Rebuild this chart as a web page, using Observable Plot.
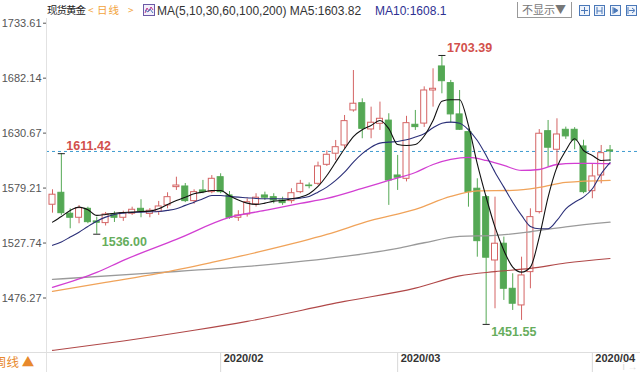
<!DOCTYPE html>
<html>
<head>
<meta charset="utf-8">
<script src="https://cdn.jsdelivr.net/npm/d3@7"></script>
<script src="https://cdn.jsdelivr.net/npm/@observablehq/plot@0.6"></script>
<style>
  html, body { margin: 0; padding: 0; background: #fff; }
  #wrap { position: relative; width: 640px; height: 372px; overflow: hidden; background: #fff; font-family: "Liberation Sans", Arial, sans-serif; }
  .ov { position: absolute; white-space: nowrap; line-height: 14px; }
  .cjk { font-family: "Noto Sans CJK SC", sans-serif; }
  .ico { position: absolute; top: 5px; width: 11px; height: 11px; border: 1px solid #4a78b8; background: #eef3fb; box-sizing: border-box; }
</style>
</head>
<body>
<div id="wrap">
  <div id="chart"></div>
  <div class="ov" style="left:46px;top:18px;width:1px;height:354px;background:#e2e2e2"></div>
  <div class="ov" style="left:0;top:352px;width:640px;height:1px;background:#dedede"></div>
  <div class="ov cjk" style="left:-6px;top:354px;font-size:12.5px;color:#e8892c;line-height:16px">周线 ▲</div>

  <div class="ov cjk" style="left:47px;top:3px;font-size:10.5px;letter-spacing:-1px;color:#222">现货黄金</div>
  <div class="ov cjk" style="left:88px;top:3px;font-size:10px;color:#f2a33a">&lt;</div>
  <div class="ov cjk" style="left:97px;top:3px;font-size:10.5px;letter-spacing:1px;color:#f2a33a">日线</div>
  <div class="ov cjk" style="left:128px;top:3px;font-size:10px;color:#f2a33a">&gt;</div>
  <div class="ov" style="left:143px;top:4px;width:12px;height:12px;border:1px solid #6b5aa6;box-sizing:border-box;background:#f3effa">
    <svg width="10" height="10" style="position:absolute;left:0;top:0"><polyline points="1,8 3,3 5,6 7,2 9,5" fill="none" stroke="#c0398f" stroke-width="1"/><polyline points="1,5 4,7 6,4 9,8" fill="none" stroke="#4a78b8" stroke-width="1"/></svg>
  </div>
  <div class="ov" style="left:157px;top:4px;font-size:12px;color:#333">MA(5,10,30,60,100,200) MA5:1603.82</div>
  <div class="ov" style="left:375px;top:4px;font-size:12px;color:#2e3092">MA10:1608.1</div>
  <div class="ov cjk" style="left:517px;top:2px;width:55px;height:16px;border-left:1px solid #999;border-right:1px solid #999;border-bottom:1px solid #999;box-sizing:border-box;font-size:11px;color:#777;line-height:15px;padding-left:4px">不显示▼</div>
  <div class="ico" style="left:579px"><svg width="9" height="9" style="position:absolute;left:0;top:0"><path d="M4.5 1V8M1 4.5H8" stroke="#4a78b8"/></svg></div>
  <div class="ico" style="left:594px"><svg width="9" height="9" style="position:absolute;left:0;top:0"><path d="M2 1V8M7 1V8M2 5H7" stroke="#4a78b8"/></svg></div>
  <div class="ico" style="left:610px"><svg width="9" height="9" style="position:absolute;left:0;top:0"><path d="M2 1V8M3 2L7 4.5L3 7Z" fill="#4a78b8" stroke="#4a78b8"/></svg></div>
  <div class="ico" style="left:626px"><svg width="9" height="9" style="position:absolute;left:0;top:0"><path d="M1 1V8M2 4.5H7M5 2L8 4.5L5 7" fill="none" stroke="#4a78b8"/></svg></div>
</div>
<script>
// ---- data (spot gold, daily, 2020-01-07 .. 2020-04-03), index = trading day ----
const opens  = [1563.6,1574.8,1555.2,1551.4,1559.8,1548.0,1546.4,1554.5,1551.4,1555.2,
                1559.8,1555.0,1557.0,1563.0,1580.1,1580.7,1567.0,1577.0,1575.4,1589.4,
                1572.3,1551.4,1554.5,1563.9,1572.3,1570.7,1567.6,1567.0,1575.4,1581.6,
                1583.2,1601.0,1611.4,1619.1,1651.9,1658.7,1634.1,1639.4,1642.4,1591.0,
                1587.9,1638.5,1639.6,1670.6,1693.1,1677.5,1648.2,1631.6,1578.6,1570.7,
                1511.4,1527.1,1484.9,1469.3,1500.5,1556.7,1632.5,1615.1,1633.8,1633.8,
                1618.2,1576.3,1591.0,1614.5];
const highs  = [1577.6,1611.42,1559.8,1562.9,1561.3,1552.0,1556.4,1557.0,1557.6,1561.3,
                1568.3,1560.0,1566.7,1574.8,1589.4,1583.5,1577.6,1586.4,1590.9,1592.6,
                1576.0,1558.0,1569.2,1573.9,1575.4,1573.9,1570.7,1578.6,1586.4,1584.0,
                1603.5,1614.0,1623.8,1647.2,1689.3,1662.8,1655.0,1659.7,1648.8,1609.8,
                1646.4,1651.9,1674.0,1690.9,1703.39,1680.0,1670.6,1634.7,1587.9,1572.3,
                1570.7,1533.3,1499.0,1514.5,1559.8,1634.0,1642.5,1644.1,1636.3,1635.8,
                1624.0,1601.9,1619.1,1619.1];
const lows   = [1555.7,1553.6,1541.1,1545.8,1545.8,1536.0,1543.7,1547.0,1548.0,1553.6,
                1551.4,1551.4,1553.6,1559.8,1577.0,1565.6,1564.1,1573.9,1573.9,1573.9,
                1550.0,1548.0,1552.0,1561.4,1567.6,1564.5,1563.0,1564.5,1573.9,1578.5,
                1581.6,1599.5,1605.1,1616.0,1650.3,1625.4,1625.4,1633.2,1563.0,1577.0,
                1585.0,1633.2,1636.0,1655.0,1667.5,1640.0,1633.2,1561.3,1514.5,1451.55,
                1466.2,1474.0,1464.6,1455.3,1484.9,1555.0,1598.8,1597.3,1624.8,1615.1,
                1573.9,1569.2,1583.2,1604.0];
const closes = [1573.0,1555.7,1551.4,1560.4,1547.3,1546.7,1554.5,1551.4,1555.7,1558.9,
                1557.6,1558.0,1562.0,1570.7,1581.6,1567.0,1575.4,1575.5,1587.9,1575.4,
                1551.4,1553.6,1566.0,1570.2,1570.2,1567.6,1565.1,1574.4,1583.2,1581.0,
                1599.5,1610.4,1617.5,1641.9,1658.2,1634.7,1640.4,1644.1,1586.3,1588.9,
                1640.0,1636.3,1670.6,1672.2,1679.3,1648.2,1633.8,1575.4,1529.5,1514.0,
                1527.1,1484.9,1470.9,1497.4,1552.0,1630.1,1617.0,1629.4,1627.6,1623.8,
                1575.4,1590.1,1611.9,1613.5];

const ma5  = [1547.3,1552.6,1558.3,1561.4,1558.9,1553.6,1554.5,1555.7,1556.4,1556.7,
              1557.3,1557.6,1559.8,1563.9,1567.6,1570.7,1573.9,1575.4,1577.0,1577.0,
              1572.0,1568.0,1565.1,1563.9,1565.1,1567.0,1567.6,1569.2,1570.7,1573.9,
              1580.7,1591.0,1603.5,1616.0,1627.5,1633.8,1637.9,1642.5,1634.8,1620.0,
              1619.1,1620.0,1628.0,1642.5,1660.6,1661.9,1661.9,1637.9,1601.9,1570.7,
              1542.6,1520.8,1505.2,1500.5,1505.2,1533.3,1570.7,1598.8,1614.4,1625.4,
              1614.4,1609.8,1605.1,1605.5];
const ma10 = [1525.6,1528.8,1533.3,1537.9,1543.3,1548.2,1552.0,1554.5,1555.7,1556.4,
              1556.7,1557.0,1557.3,1558.3,1559.8,1563.0,1566.0,1569.2,1572.3,1572.3,
              1571.4,1570.7,1570.2,1569.5,1569.2,1569.2,1569.2,1569.2,1569.8,1571.4,
              1575.4,1580.1,1586.4,1594.1,1603.5,1611.4,1617.5,1621.3,1622.2,1622.9,
              1624.4,1627.0,1630.0,1635.7,1640.0,1641.0,1640.0,1633.8,1623.8,1609.8,
              1594.1,1580.1,1566.0,1553.6,1543.3,1541.1,1541.1,1548.9,1559.8,1566.0,
              1570.7,1578.6,1592.6,1603.0];

const ma30Idx  = [0,5,8,14,20,24,28,31,35,38,41,43,45,47,49,51,53,55,57,59,61,63];
const ma30Val  = [1486.2,1500.2,1511.5,1531.1,1551.7,1558.3,1564.8,1569.5,1578.9,1586.4,1593.8,
                  1601.3,1606.0,1607.9,1605.1,1600.4,1595.7,1596.6,1601.3,1602.3,1602.3,1602.0];
const ma60Idx  = [0,6,12,18,24,31,36,41,45,48,52,55,58,63];
const ma60Val  = [1482.4,1490.9,1499.3,1509.6,1520.8,1535.8,1548.9,1559.2,1571.4,1576.5,1577.0,1579.8,1584.5,1586.4];
const ma100Idx = [0,11,22,33,39,42,46,50,54,58,63];
const ma100Val = [1493.7,1499.5,1505.8,1515.2,1522.7,1528.0,1533.9,1534.9,1538.3,1542.9,1547.3];
const ma200Idx = [0,8,16,22,33,41,46,50,54,58,63];
const ma200Val = [1427.2,1436.0,1446.0,1454.4,1473.1,1485.5,1497.0,1501.0,1504.0,1509.0,1513.3];

const yTicks = [1476.27,1527.74,1579.21,1630.67,1682.14,1733.61];
const monthIdx = [19,39,61];
const monthLabels = ["2020/02","2020/03","2020/04"];
const extremeIdx  = [1,5,44,49];
const extremeVal  = [1611.42,1536.00,1703.39,1451.55];
const extremeKind = ["high","low","high","low"];
const lastPrice = 1613.5;

// ---- tables for the library ----
const candles = opens.map((o,i)=>({i, open:o, high:highs[i], low:lows[i], close:closes[i]}));
const up = candles.filter(d=>d.close>=d.open);
const down = candles.filter(d=>d.close<d.open);
const ser = (vals)=>vals.map((v,i)=>({i, v}));
const ser2 = (idx, vals)=>idx.map((x,k)=>({i:x, v:vals[k]}));
const extremes = extremeIdx.map((x,k)=>({i:x, v:extremeVal[k], kind:extremeKind[k]}));
const highsE = extremes.filter(d=>d.kind==="high");
const lowsE = extremes.filter(d=>d.kind==="low");

const UP = "#d46464", DOWN = "#54a854";
const HW = 0.34;

const chart = Plot.plot({
  width: 640, height: 372,
  marginLeft: 46, marginRight: 0, marginTop: 0, marginBottom: 20,
  x: {domain: [-0.678, 66.44], range: [46, 640], axis: null},
  y: {domain: [1476.27, 1733.61], range: [297.5, 22.7], axis: null},
  style: {fontFamily: "Liberation Sans, Arial, sans-serif", background: "transparent", overflow: "visible"},
  marks: [
    Plot.axisY(yTicks, {anchor: "left", tickSize: 3, tickPadding: 2, tickFormat: d=>d.toFixed(2), fontSize: 11, color: "#555"}),
    Plot.axisX(monthIdx, {anchor: "bottom", tickSize: 20, tickFormat: ()=>null, color: "#d8d8d8"}),
    Plot.text(monthIdx, {x: d=>d, text: (d,k)=>monthLabels[k], frameAnchor: "bottom", dy: 9, dx: 3, textAnchor: "start", fontWeight: "bold", fontSize: 11, fill: "#333"}),
    Plot.ruleY([lastPrice], {stroke: "#3f9bcf", strokeDasharray: "3,3", strokeWidth: 1}),
    Plot.ruleX(up, {x: "i", y1: "low", y2: "high", stroke: UP, strokeWidth: 1}),
    Plot.ruleX(down, {x: "i", y1: "low", y2: "high", stroke: DOWN, strokeWidth: 1}),
    Plot.rect(up, {x1: d=>d.i-HW, x2: d=>d.i+HW, y1: "open", y2: "close", fill: "#fff", stroke: UP, strokeWidth: 1}),
    Plot.rect(down, {x1: d=>d.i-HW, x2: d=>d.i+HW, y1: "open", y2: "close", fill: DOWN, stroke: DOWN, strokeWidth: 1}),
    Plot.line(ser2(ma200Idx, ma200Val), {x: "i", y: "v", stroke: "#b04848", strokeWidth: 1.1, curve: "monotone-x"}),
    Plot.line(ser2(ma100Idx, ma100Val), {x: "i", y: "v", stroke: "#9a9a9a", strokeWidth: 1.3, curve: "monotone-x"}),
    Plot.line(ser2(ma60Idx, ma60Val), {x: "i", y: "v", stroke: "#f0a35a", strokeWidth: 1.3, curve: "monotone-x"}),
    Plot.line(ser2(ma30Idx, ma30Val), {x: "i", y: "v", stroke: "#d23fd2", strokeWidth: 1.3, curve: "monotone-x"}),
    Plot.line(ser(ma10), {x: "i", y: "v", stroke: "#2b2f78", strokeWidth: 1.1, curve: "monotone-x"}),
    Plot.line(ser(ma5), {x: "i", y: "v", stroke: "#111", strokeWidth: 1.1, curve: "monotone-x"}),
    Plot.link(extremes, {x1: d=>d.i-0.4, x2: d=>d.i+0.4, y1: "v", y2: "v", stroke: "#222", strokeWidth: 1}),
    Plot.text(highsE, {x: "i", y: "v", text: d=>d.v.toFixed(2), dx: 5, dy: -7.5, textAnchor: "start", fill: "#d2504c", fontWeight: "bold", fontSize: 12.5}),
    Plot.text(lowsE, {x: "i", y: "v", text: d=>d.v.toFixed(2), dx: 5, dy: 8, textAnchor: "start", fill: "#66ad5c", fontWeight: "bold", fontSize: 12.5})
  ]
});
document.getElementById("chart").appendChild(chart);
</script>
</body>
</html>
